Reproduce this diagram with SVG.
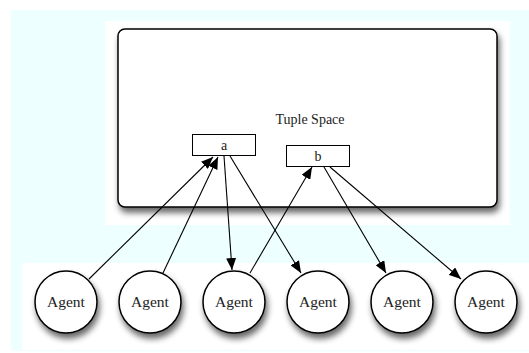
<svg xmlns="http://www.w3.org/2000/svg" width="529" height="353" viewBox="0 0 529 353">
<defs>
<filter id="sh" x="-20%" y="-20%" width="150%" height="160%">
<feGaussianBlur in="SourceAlpha" stdDeviation="3"/>
<feOffset dx="2" dy="5" result="b"/>
<feComponentTransfer><feFuncA type="linear" slope="0.6"/></feComponentTransfer>
<feMerge><feMergeNode/><feMergeNode in="SourceGraphic"/></feMerge>
</filter>
<marker id="ah" viewBox="0 0 12 10" refX="12" refY="5" markerWidth="12" markerHeight="10" markerUnits="userSpaceOnUse" orient="auto">
<path d="M0,0 L12,5 L0,10 z" fill="#000"/>
</marker>
</defs>
<style>
.lbl{font-family:"Liberation Serif","Times New Roman",serif;fill:#222;text-anchor:middle}
.ag circle{fill:#fff;stroke:#000;stroke-width:1.5}
.tup{fill:#fff;stroke:#000;stroke-width:1}
.c{stroke:#000;stroke-width:1.1;fill:none;marker-end:url(#ah)}
</style>
<rect x="11" y="10" width="518" height="341" fill="#eeffff"/>
<rect x="105" y="21" width="405" height="204" fill="#fff"/>
<rect x="22" y="263" width="507" height="87" fill="#fff"/>
<g id="tuplespace">
<rect x="118" y="29" width="379" height="178" rx="7" fill="#fff" stroke="#000" stroke-width="1.5" filter="url(#sh)"/>
<text class="lbl" x="310" y="124" font-size="14">Tuple Space</text>
</g>
<g id="tuple-a">
<rect class="tup" x="192.5" y="134.5" width="63" height="21"/>
<text class="lbl" x="224" y="150" font-size="14">a</text>
</g>
<g id="tuple-b">
<rect class="tup" x="286.5" y="145.5" width="63" height="21"/>
<text class="lbl" x="318" y="161" font-size="14">b</text>
</g>
<g id="agent1" class="ag"><circle cx="66" cy="302" r="31" filter="url(#sh)"/><text class="lbl" x="66" y="307" font-size="15.5">Agent</text></g>
<g id="agent2" class="ag"><circle cx="150" cy="302" r="31" filter="url(#sh)"/><text class="lbl" x="150" y="307" font-size="15.5">Agent</text></g>
<g id="agent3" class="ag"><circle cx="234" cy="302" r="31" filter="url(#sh)"/><text class="lbl" x="234" y="307" font-size="15.5">Agent</text></g>
<g id="agent4" class="ag"><circle cx="318" cy="302" r="31" filter="url(#sh)"/><text class="lbl" x="318" y="307" font-size="15.5">Agent</text></g>
<g id="agent5" class="ag"><circle cx="402" cy="302" r="31" filter="url(#sh)"/><text class="lbl" x="402" y="307" font-size="15.5">Agent</text></g>
<g id="agent6" class="ag"><circle cx="486" cy="302" r="31" filter="url(#sh)"/><text class="lbl" x="486" y="307" font-size="15.5">Agent</text></g>
<g id="connectors">
<line class="c" x1="89" y1="279" x2="213" y2="157"/>
<line class="c" x1="163" y1="273" x2="218" y2="157"/>
<line class="c" x1="224" y1="156" x2="232" y2="270"/>
<line class="c" x1="230" y1="156" x2="301" y2="273"/>
<line class="c" x1="250" y1="273" x2="312" y2="167"/>
<line class="c" x1="324" y1="167" x2="386" y2="273"/>
<line class="c" x1="330" y1="167" x2="461" y2="279"/>
</g>
</svg>
